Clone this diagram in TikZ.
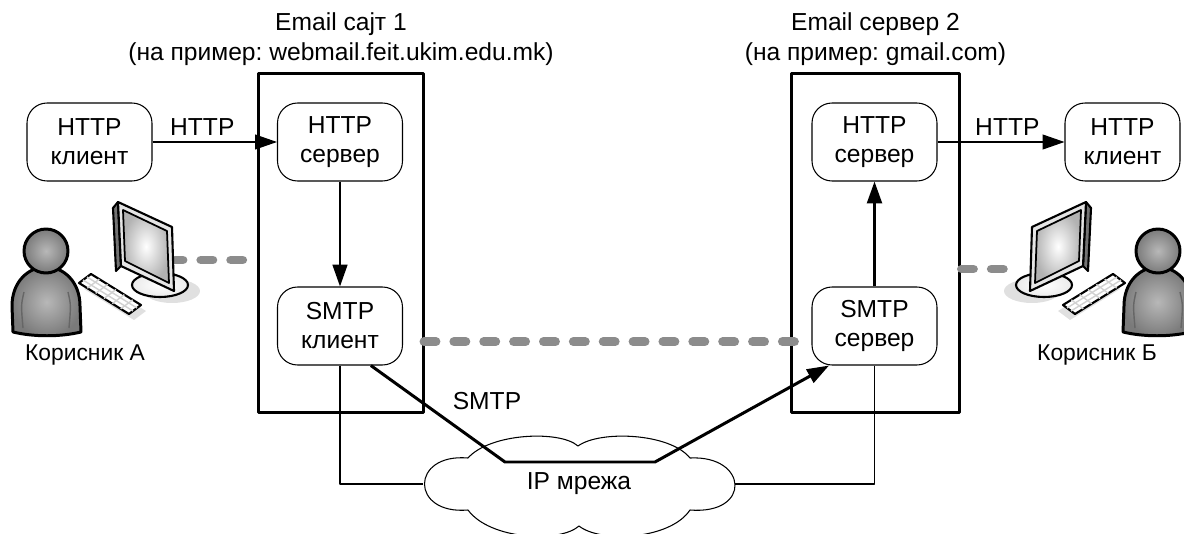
\documentclass[tikz,border=0pt]{standalone}
\usepackage{fontspec}
\setmainfont{Liberation Sans}
\frenchspacing
\usetikzlibrary{arrows.meta,positioning}

\tikzset{
  every node/.style={font=\fontsize{14pt}{16.5pt}\selectfont},
  proc/.style={draw, line width=0.6pt, fill=white, rounded corners=0.4cm,
    minimum width=2.5cm, minimum height=1.56cm, align=center},
  site/.style={draw, line width=1.7pt, minimum height=6.8cm},
  title/.style={align=center, inner sep=0pt, font=\fontsize{14pt}{17pt}\selectfont},
  arr/.style={-{Triangle[length=12.5pt,width=8.5pt]}, line width=0.7pt},
  link/.style={black!45, line width=5.1pt, line cap=round, dash pattern=on 6.8pt off 10.2pt},
  wire/.style={line width=0.6pt},
  person/.style={line width=1.7pt, inner color=black!28, outer color=black!52},
}

\begin{document}
\begin{tikzpicture}[x=0.02cm, y=-0.02cm, line join=round]
\useasboundingbox (0,0) rectangle (1184,534);
\clip (0,0) rectangle (1184,534);

% the two mail hosts
\node[site, minimum width=3.32cm] (site1) at (341,243) {};
\node[site, minimum width=3.38cm] (site2) at (875.5,243) {};
\node[title, above=3pt of site1] (name1) {Email сајт 1\\(на пример: webmail.feit.ukim.edu.mk)};
\node[title, above=3pt of site2] (name2) {Email сервер 2\\(на пример: gmail.com)};

% clients and servers
\node[proc] (cliA) at (89.5,142) {HTTP\\клиент};
\node[proc] (srvA) at (340,142) {HTTP\\сервер};
\node[proc] (smtpA) at (340,326) {SMTP\\клиент};
\node[proc] (smtpB) at (874.5,326) {SMTP\\сервер};
\node[proc] (srvB) at (874.5,142) {HTTP\\сервер};
\node[proc, minimum width=2.3cm] (cliB) at (1122.5,142) {HTTP\\клиент};

% logical links (grey dots)
\coordinate (pcA) at (171,260);
\coordinate (pcB) at (1008,269);
\draw[link] (pcA) -- (pcA -| site1.west);
\draw[link] (site2.east |- pcB) -- (pcB);
\draw[link, shorten <=0.42cm] (smtpA.-14) -- (smtpB.194);

% users at their computers
\foreach \sx/\dx in {1/0,-1/1204} {
\begin{scope}[shift={(\dx,0)}, xscale=\sx]
  % stand and screen
  \fill[black!12] (172,291) ellipse [x radius=28, y radius=12];
  \draw[line width=1.2pt, inner color=white, outer color=black!8] (160,285) ellipse [x radius=28, y radius=12];
  \draw[line width=1.2pt, fill=black!55] (113,208) -- (118,202) -- (121,266) -- (116,271) -- cycle;
  \draw[line width=1.2pt, fill=black!10] (118,202) -- (172,227) -- (174,291) -- (121,266) -- cycle;
  \draw[line width=1pt, inner color=white, outer color=black!30] (123,210) -- (167,231) -- (169,283) -- (125,261) -- cycle;
  % keyboard
  \fill[black!12] (84,289) -- (96,280) -- (146,311) -- (134,320) -- cycle;
  \draw[line width=1.2pt, fill=white] (79,283) -- (91,274) -- (141,305) -- (129,314) -- cycle;
  \draw[black!18, line width=0.8pt] (83,280) -- (133,311) (87,277) -- (137,308);
  \foreach \s in {1,...,5}
    \draw[black!18, line width=0.8pt] ({79+50*\s/6},{283+31*\s/6}) -- ({91+50*\s/6},{274+31*\s/6});
  % person
  \draw[person] (13,332) -- (12,306) .. controls (12,282) and (28,267) .. (46,267)
    .. controls (64,267) and (80,282) .. (80,306) -- (81,332)
    .. controls (60,337) and (34,337) .. (13,332) -- cycle;
  \draw[black!60, line width=0.8pt] (24,292) .. controls (21,305) .. (23,328);
  \draw[black!60, line width=0.8pt] (68,292) .. controls (71,305) .. (69,328);
  \draw[person] (46,251) circle [radius=22];
\end{scope}
}
\node[font=\fontsize{13pt}{16pt}\selectfont] (userA) at (85,355) {Корисник А};
\node[font=\fontsize{13pt}{16pt}\selectfont] (userB) at (1097,355) {Корисник Б};

% IP network
\draw[line width=0.6pt, fill=white] (468,458) .. controls (490,433) and (560,430) .. (578,446)
  .. controls (600,430) and (670,433) .. (690,458)
  .. controls (748,455) and (752,515) .. (690,510)
  .. controls (670,540) and (600,543) .. (579,526)
  .. controls (560,543) and (490,540) .. (468,510)
  .. controls (410,515) and (410,453) .. (468,458) -- cycle;
\node (net) at (579,484) {IP мрежа};
\coordinate (netW) at (423,484);
\coordinate (netE) at (735,484);
\draw[wire] (smtpA) -- (smtpA |- netW) -- (netW);
\draw[wire] (smtpB) -- (smtpB |- netE) -- (netE);

% HTTP and SMTP transfers
\draw[arr] (cliA) -- node[above, pos=0.4] {HTTP} (srvA);
\draw[arr] (srvB) -- node[above, pos=0.55] {HTTP} (cliB);
\draw[arr, line width=1.1pt] (srvA) -- (smtpA);
\draw[arr, line width=1.5pt] (smtpB) -- (srvB);
\coordinate (bendL) at (505,462);
\coordinate (bendR) at (655,462);
\draw[arr, line width=1.7pt] (smtpA.-52) -- (bendL) -- (bendR) -- (smtpB.221);
\node (smtpLbl) at (487,401) {SMTP};
\end{tikzpicture}
\end{document}
